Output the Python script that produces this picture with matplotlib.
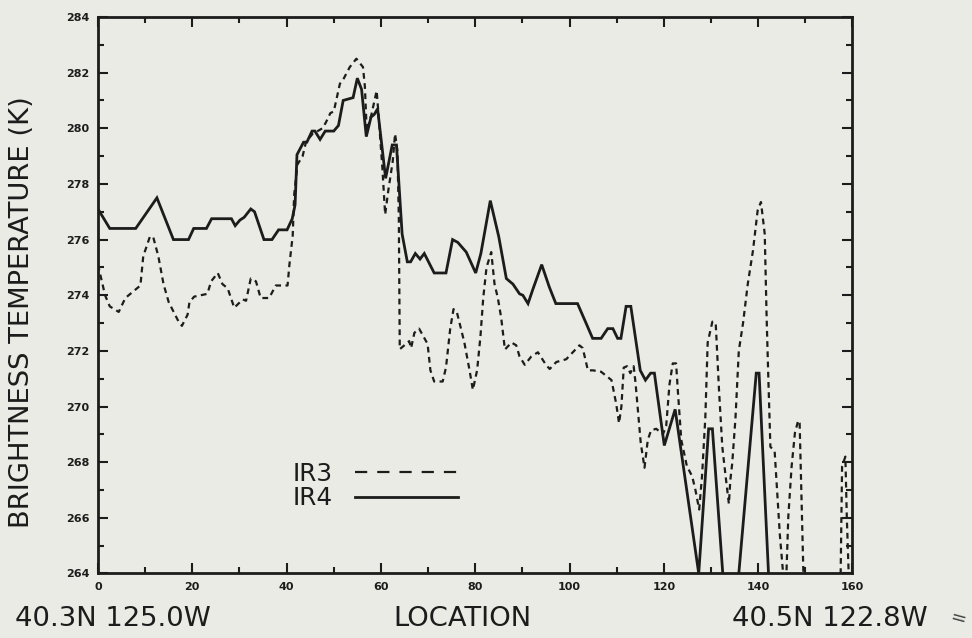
import matplotlib
matplotlib.use('AGG')

import matplotlib.pyplot as plt
from matplotlib.lines import Line2D
from matplotlib.ticker import MultipleLocator

from matplotlib import rcParams
rcParams['xtick.direction'] = 'in'
rcParams['ytick.direction'] = 'in'
rcParams['font.family'] = ['DejaVu Sans']

filename = "out"

# location along the scan line and brightness temperature (K)
x_ir4 = [0, 2.5, 8, 12.5, 16, 19.2, 20.3, 23, 24.1, 28.3,
         29.1, 30.1, 31, 32.4, 33.2, 35.2, 36.9, 38.3, 40.1, 41.2,
         41.8, 42.2, 43.6, 44.3, 45.4, 46, 47.1, 48.2, 50, 51,
         52, 54.1, 55, 55.9, 56.9, 57.9, 58.6, 59.3, 61, 62.4,
         63.3, 64.5, 65.6, 66.3, 67.3, 68.3, 69.2, 71.3, 73.8, 75.2,
         76.3, 78.1, 80.1, 81.2, 83.2, 85, 86.6, 88, 89.4, 90.1,
         91.2, 92.2, 94.1, 95.7, 97.1, 101.7, 103.5, 104.9, 106.7, 108.1,
         109.2, 110.2, 110.9, 112, 113, 115, 116.1, 117.2, 118, 120.1,
         122.4, 127.4, 129.5, 130.3, 132.5, 134.2, 135.9, 139.6, 140.2, 142.2,
         143, 160]
y_ir4 = [277.1, 276.4, 276.4, 277.5, 276.0, 276.0, 276.4, 276.4, 276.75, 276.75,
         276.5, 276.7, 276.8, 277.1, 277.0, 276.0, 276.0, 276.35, 276.35, 276.75,
         277.25, 279.05, 279.5, 279.5, 279.9, 279.9, 279.6, 279.9, 279.9, 280.1,
         281.0, 281.1, 281.8, 281.4, 279.7, 280.4, 280.5, 280.7, 278.2, 279.4,
         279.4, 276.2, 275.2, 275.2, 275.5, 275.3, 275.5, 274.8, 274.8, 276.0,
         275.9, 275.55, 274.8, 275.5, 277.4, 276.1, 274.6, 274.4, 274.05, 274.0,
         273.7, 274.2, 275.1, 274.3, 273.7, 273.7, 273.0, 272.45, 272.45, 272.8,
         272.8, 272.45, 272.45, 273.6, 273.6, 271.3, 270.95, 271.2, 271.2, 268.6,
         269.9, 264.0, 269.2, 269.2, 264.0, 262.5, 264.0, 271.2, 271.2, 264.0,
         262.5, 262.5]

x_ir3 = [0, 1.5, 2.5, 4.4, 5.8, 9, 9.6, 11, 11.7, 12.8,
         13.9, 15, 17.1, 17.8, 19, 19.4, 20.4, 23.2, 24, 25.4,
         26.4, 27.5, 28.9, 30.7, 31.4, 32.4, 33.5, 34.5, 36.3, 37.7,
         40.2, 40.6, 41.3, 41.6, 42.3, 43.4, 44.1, 45.5, 46.6, 47.6,
         48.3, 49.3, 50, 51.3, 52, 53.4, 54.8, 56.2, 56.6, 57,
         58, 59.1, 59.4, 60.3, 60.9, 61.6, 62.5, 63, 63.5, 63.8,
         64.0, 66, 66.4, 67.1, 68.1, 69.9, 70.5, 71.3, 73.1, 73.8,
         74.7, 75.4, 76.1, 77.7, 78.8, 79.5, 80.4, 81.1, 81.7, 82.4,
         83.4, 84.1, 84.8, 85.5, 86.3, 87.7, 88.7, 89.4, 90.5, 91.9,
         93.3, 95.0, 95.8, 97.2, 99.3, 100.7, 102.1, 102.8, 103.9, 105.0,
         106.7, 108.9, 109.9, 110.5, 111.0, 111.5, 112.2, 112.9, 113.6, 114.0,
         115.1, 115.9, 116.6, 117.3, 118.4, 119.8, 120.5, 121.2, 121.9, 122.6,
         123.0, 123.7, 124.9, 126.0, 126.7, 127.5, 127.8, 128.1, 128.8, 129.3,
         130.3, 131.0, 131.7, 132.4, 133.1, 133.8, 134.1, 134.5, 135.2, 135.9,
         136.8, 137.8, 138.9, 139.9, 140.6, 141.4, 141.8, 142.2, 142.6, 143.5,
         144.6, 145.3, 145.7, 146.0, 146.4, 147.1, 147.8, 148.5, 148.8, 149.6,
         150.2, 157.0, 157.5, 157.8, 158.5, 158.8, 159.2, 160]
y_ir3 = [275.1, 274.0, 273.6, 273.4, 273.9, 274.35, 275.4, 276.1, 276.1, 275.4,
         274.4, 273.75, 273.05, 272.9, 273.3, 273.75, 273.95, 274.05, 274.5, 274.8,
         274.4, 274.25, 273.55, 273.85, 273.8, 274.6, 274.5, 273.9, 273.9, 274.35,
         274.35, 275.1, 276.15, 277.6, 278.7, 279.0, 279.5, 279.8, 279.9, 280.0,
         280.2, 280.55, 280.6, 281.6, 281.75, 282.2, 282.5, 282.2, 281.5, 279.9,
         280.5, 281.35, 280.7, 278.6, 276.9, 277.8, 278.8, 279.8, 279.2, 276.8,
         272.06, 272.35, 272.1, 272.65, 272.8, 272.25, 271.3, 270.9, 270.9, 271.4,
         272.8, 273.5, 273.4, 272.3, 271.3, 270.6, 271.3, 272.5, 273.9, 275.0,
         275.55, 274.4, 273.9, 273.2, 272.05, 272.3, 272.2, 271.8, 271.5, 271.8,
         271.95, 271.5, 271.35, 271.6, 271.7, 271.95, 272.2, 272.1, 271.3, 271.3,
         271.25, 270.95, 270.1, 269.4, 270.0, 271.4, 271.45, 271.2, 271.45, 270.85,
         268.7, 267.8, 268.8, 269.15, 269.2, 269.0, 269.3, 270.8, 271.55, 271.55,
         270.5, 268.8, 267.85, 267.5, 267.0, 266.3, 266.9, 267.5, 269.6, 272.3,
         273.05, 273.0, 270.6, 268.55, 267.5, 266.5, 267.35, 267.95, 269.6, 272.0,
         273.0, 274.4, 275.6, 277.05, 277.35, 276.2, 273.2, 270.8, 268.55, 268.4,
         265.4, 264.0, 263.5, 264.0, 266.05, 267.85, 269.05, 269.5, 269.4, 264.0,
         262.5, 262.5, 264.0, 267.85, 268.2, 266.05, 264.0, 262.5]

xticks = [0, 20, 40, 60, 80, 100, 120, 140, 160]
yticks = [264, 266, 268, 270, 272, 274, 276, 278, 280, 282, 284]

ink = '#1c1c1c'
paper = '#ebebe5'

fig = plt.figure(1, figsize=(9.72, 6.38), dpi=100, facecolor=paper)
ax = fig.add_axes([0.1008, 0.1011, 0.7762, 0.8723], facecolor=paper)

ax.plot(x_ir3, y_ir3, color=ink, lw=1.6, ls=(0, (2.6, 2.0)))
ax.plot(x_ir4, y_ir4, color=ink, lw=2.0, solid_joinstyle='miter')

ax.set_xlim(0, 160)
ax.set_ylim(264, 284)

ax.set_xticks(xticks)
ax.set_yticks(yticks)
ax.set_xticklabels([str(v) for v in xticks])
ax.set_yticklabels([str(v) for v in yticks])
ax.xaxis.set_minor_locator(MultipleLocator(10))
ax.yaxis.set_minor_locator(MultipleLocator(1))
ax.tick_params(which='both', top=True, right=True, color=ink, width=1.5)
ax.tick_params(which='major', length=7, pad=6, labelsize=8, labelcolor=ink)
ax.tick_params(which='minor', length=4.5)
for lab in ax.get_xticklabels() + ax.get_yticklabels():
    lab.set_fontweight('bold')

for side in ['left', 'right', 'top', 'bottom']:
    ax.spines[side].set_linewidth(2.0)
    ax.spines[side].set_color(ink)

# legend: label on the left, line sample on the right
h3 = Line2D([], [], color=ink, lw=1.6, ls=(0, (5.5, 4.5)))
h4 = Line2D([], [], color=ink, lw=2.0)
ax.legend([h3, h4], ['IR3', 'IR4'], loc='upper left', bbox_to_anchor=(0.2585, 0.2004),
          frameon=False, markerfirst=False, fontsize=17.8, handlelength=4.17,
          handletextpad=0.89, labelspacing=0.02, borderpad=0, borderaxespad=0,
          labelcolor=ink)

fig.text(22 / 972, 1 - 312 / 638, 'BRIGHTNESS TEMPERATURE (K)', rotation=90,
         ha='center', va='center', fontsize=19.7, color=ink)
fig.text(462 / 972, 1 - 626 / 638, 'LOCATION', ha='center', va='baseline',
         fontsize=19.7, color=ink)
fig.text(15 / 972, 1 - 626 / 638, '40.3N 125.0W', ha='left', va='baseline',
         fontsize=19.7, color=ink)
fig.text(732 / 972, 1 - 626 / 638, '40.5N 122.8W', ha='left', va='baseline',
         fontsize=19.7, color=ink)
fig.text(958 / 972, 1 - 626 / 638, '=', ha='center', va='baseline', rotation=-15,
         fontsize=14, color='#444444')

plt.savefig(filename + ".png", dpi=100, facecolor=paper)
